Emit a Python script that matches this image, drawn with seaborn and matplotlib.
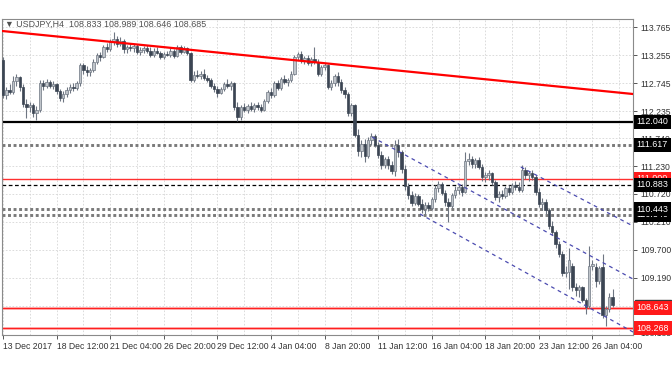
import numpy as np
import matplotlib
matplotlib.use('Agg')
import matplotlib.pyplot as plt
import matplotlib.transforms as mtransforms
import seaborn as sns

# --- USDJPY H4 candles ---
opens = [
    113.16, 112.52, 112.62, 112.58, 112.78, 112.85, 112.68, 112.36, 112.30, 112.35,
    112.20, 112.25, 112.74, 112.70, 112.76, 112.70, 112.73, 112.60, 112.48, 112.55,
    112.62, 112.68, 112.66, 112.74, 113.08, 112.98, 112.94, 112.98, 113.14, 113.26,
    113.22, 113.40, 113.36, 113.50, 113.55, 113.46, 113.52, 113.36, 113.40, 113.38,
    113.42, 113.32, 113.35, 113.38, 113.34, 113.26, 113.34, 113.30, 113.22, 113.28,
    113.26, 113.34, 113.24, 113.40, 113.32, 113.38, 113.30, 112.80, 112.90, 112.88,
    112.92, 112.84, 112.80, 112.70, 112.64, 112.56, 112.64, 112.72, 112.70, 112.74,
    112.30, 112.12, 112.30, 112.26, 112.32, 112.28, 112.34, 112.30, 112.26, 112.42,
    112.58, 112.52, 112.74, 112.66, 112.82, 112.76, 112.80, 112.92, 113.22, 113.28,
    113.16, 113.20, 113.12, 113.18, 113.14, 112.92, 113.04, 113.08, 112.68, 112.74,
    112.88, 112.76, 112.62, 112.54, 112.20, 112.34, 111.80, 111.50, 111.64, 111.42,
    111.70, 111.78, 111.62, 111.44, 111.24, 111.36, 111.24, 111.14, 111.62, 111.48,
    111.18, 110.86, 110.70, 110.56, 110.68, 110.54, 110.44, 110.52, 110.46, 110.62,
    110.82, 110.90, 110.74, 110.58, 110.50, 110.70, 110.80, 110.84, 110.76, 111.32,
    111.36, 111.26, 111.34, 111.22, 111.02, 111.06, 111.10, 110.94, 110.66, 110.72,
    110.68, 110.82, 110.76, 110.88, 110.84, 110.80, 111.16, 111.06, 111.10, 111.02,
    110.76, 110.54, 110.58, 110.42, 110.14, 110.02, 109.80, 109.62, 109.28, 109.30,
    109.40, 109.02, 108.96, 109.02, 108.78, 108.68, 109.40, 109.38, 109.12, 109.38,
    108.50, 108.62, 108.833,
]
highs = [
    113.22, 112.68, 112.72, 112.88, 112.92, 112.88, 112.72, 112.45, 112.40, 112.38,
    112.32, 112.80, 112.80, 112.82, 112.80, 112.78, 112.75, 112.64, 112.60, 112.68,
    112.72, 112.75, 112.78, 113.12, 113.12, 113.06, 113.02, 113.18, 113.30, 113.32,
    113.45, 113.48, 113.55, 113.68, 113.60, 113.58, 113.55, 113.45, 113.48, 113.46,
    113.46, 113.40, 113.42, 113.44, 113.40, 113.38, 113.40, 113.34, 113.32, 113.34,
    113.38, 113.36, 113.44, 113.44, 113.42, 113.40, 113.32, 112.96, 112.98, 112.96,
    113.00, 112.90, 112.84, 112.74, 112.70, 112.68, 112.76, 112.82, 112.78, 112.76,
    112.40, 112.34, 112.38, 112.36, 112.40, 112.38, 112.40, 112.36, 112.46, 112.62,
    112.66, 112.78, 112.80, 112.86, 112.90, 112.84, 112.96, 113.26, 113.32, 113.34,
    113.24, 113.26, 113.22, 113.40, 113.18, 113.08, 113.12, 113.10, 112.80, 112.92,
    112.94, 112.82, 112.68, 112.58, 112.38, 112.36, 111.90, 111.70, 111.72, 111.76,
    111.84, 111.82, 111.66, 111.50, 111.40, 111.42, 111.32, 111.70, 111.72, 111.52,
    111.24, 110.92, 110.78, 110.74, 110.72, 110.62, 110.58, 110.58, 110.66, 110.88,
    110.96, 110.94, 110.80, 110.64, 110.74, 110.86, 110.90, 110.90, 111.48, 111.46,
    111.42, 111.38, 111.40, 111.26, 111.12, 111.16, 111.12, 110.98, 110.78, 110.80,
    110.86, 110.88, 110.92, 110.96, 110.94, 111.24, 111.22, 111.14, 111.16, 111.06,
    110.82, 110.64, 110.62, 110.46, 110.22, 110.06, 109.86, 109.68, 109.40, 109.74,
    109.46, 109.10, 109.06, 109.04, 108.82, 109.76, 109.52, 109.46, 109.40, 109.62,
    108.68, 108.90, 108.989,
]
lows = [
    112.48, 112.45, 112.55, 112.55, 112.70, 112.60, 112.30, 112.10, 112.22, 112.12,
    112.08, 112.22, 112.62, 112.65, 112.66, 112.64, 112.55, 112.42, 112.40, 112.50,
    112.56, 112.60, 112.62, 112.70, 112.92, 112.88, 112.88, 112.95, 113.10, 113.15,
    113.20, 113.32, 113.34, 113.45, 113.40, 113.42, 113.30, 113.30, 113.34, 113.32,
    113.28, 113.26, 113.30, 113.30, 113.22, 113.22, 113.28, 113.18, 113.18, 113.24,
    113.22, 113.20, 113.22, 113.28, 113.30, 113.26, 112.76, 112.76, 112.84, 112.82,
    112.80, 112.76, 112.66, 112.58, 112.50, 112.54, 112.60, 112.66, 112.62, 112.26,
    112.06, 112.08, 112.22, 112.20, 112.24, 112.22, 112.26, 112.22, 112.24, 112.38,
    112.48, 112.50, 112.62, 112.62, 112.72, 112.70, 112.76, 112.90, 113.16, 113.12,
    113.10, 113.08, 113.06, 113.10, 112.88, 112.88, 112.98, 112.64, 112.62, 112.70,
    112.70, 112.56, 112.48, 112.14, 112.14, 111.76, 111.42, 111.40, 111.30, 111.38,
    111.62, 111.58, 111.38, 111.18, 111.20, 111.18, 111.08, 111.04, 111.40, 111.10,
    110.80, 110.62, 110.50, 110.52, 110.50, 110.38, 110.36, 110.40, 110.42, 110.58,
    110.76, 110.70, 110.50, 110.20, 110.46, 110.64, 110.72, 110.68, 110.74, 111.24,
    111.20, 111.20, 111.18, 110.96, 110.94, 110.98, 110.88, 110.60, 110.58, 110.62,
    110.64, 110.70, 110.72, 110.80, 110.76, 110.76, 111.00, 110.96, 110.98, 110.70,
    110.48, 110.42, 110.36, 110.08, 109.96, 109.74, 109.56, 109.22, 109.20, 108.98,
    108.94, 108.86, 108.84, 108.74, 108.52, 108.64, 109.32, 109.02, 109.08, 108.46,
    108.30, 108.56, 108.646,
]
closes = [
    112.52, 112.62, 112.58, 112.78, 112.85, 112.68, 112.36, 112.30, 112.35, 112.20,
    112.25, 112.74, 112.70, 112.76, 112.70, 112.73, 112.60, 112.48, 112.55, 112.62,
    112.68, 112.66, 112.74, 113.08, 112.98, 112.94, 112.98, 113.14, 113.26, 113.22,
    113.40, 113.36, 113.50, 113.55, 113.46, 113.52, 113.36, 113.40, 113.38, 113.42,
    113.32, 113.35, 113.38, 113.34, 113.26, 113.34, 113.30, 113.22, 113.28, 113.26,
    113.34, 113.24, 113.40, 113.32, 113.38, 113.30, 112.80, 112.90, 112.88, 112.92,
    112.84, 112.80, 112.70, 112.64, 112.56, 112.64, 112.72, 112.70, 112.74, 112.30,
    112.12, 112.30, 112.26, 112.32, 112.28, 112.34, 112.30, 112.26, 112.42, 112.58,
    112.52, 112.74, 112.66, 112.82, 112.76, 112.80, 112.92, 113.22, 113.28, 113.16,
    113.20, 113.12, 113.18, 113.14, 112.92, 113.04, 113.08, 112.68, 112.74, 112.88,
    112.76, 112.62, 112.54, 112.20, 112.34, 111.80, 111.50, 111.64, 111.42, 111.70,
    111.78, 111.62, 111.44, 111.24, 111.36, 111.24, 111.14, 111.62, 111.48, 111.18,
    110.86, 110.70, 110.56, 110.68, 110.54, 110.44, 110.52, 110.46, 110.62, 110.82,
    110.90, 110.74, 110.58, 110.50, 110.70, 110.80, 110.84, 110.76, 111.32, 111.36,
    111.26, 111.34, 111.22, 111.02, 111.06, 111.10, 110.94, 110.66, 110.72, 110.68,
    110.82, 110.76, 110.88, 110.84, 110.80, 111.16, 111.06, 111.10, 111.02, 110.76,
    110.54, 110.58, 110.42, 110.14, 110.02, 109.80, 109.62, 109.28, 109.30, 109.52,
    109.02, 108.96, 109.02, 108.78, 108.66, 109.40, 109.44, 109.12, 109.36, 108.50,
    108.62, 108.83, 108.685,
]

x_labels = ["13 Dec 2017", "18 Dec 12:00", "21 Dec 04:00", "26 Dec 20:00",
            "29 Dec 12:00", "4 Jan 04:00", "8 Jan 20:00", "11 Jan 12:00",
            "16 Jan 04:00", "18 Jan 20:00", "23 Jan 12:00", "26 Jan 04:00"]
y_ticks = [113.765, 113.255, 112.745, 112.235, 111.740, 111.230,
           110.720, 110.210, 109.700, 109.190, 108.185]
grid_y = [113.765, 113.255, 112.745, 112.235, 111.740, 111.230,
          110.720, 110.210, 109.700, 109.190, 108.680]

# trend line anchors (bar index, price)
red_trend_x = [-0.3, 188.1]
red_trend_y = [113.698, 112.546]
chan_a_x = [110.2, 188.1]
chan_a_y = [111.760, 109.164]
chan_b_x = [124.5, 188.1]
chan_b_y = [110.353, 108.196]
chan_c_x = [154.6, 188.1]
chan_c_y = [111.212, 110.133]

# horizontal levels
red_levels = [111.000, 108.643, 108.268]
black_level = 112.040
dash_level = 110.883
dot_levels = [111.617, 110.443, 110.340]
bid_price = 108.685

header = "\u25bc USDJPY,H4  108.833 108.989 108.646 108.685"

sns.set_theme(style="white")
plt.rcParams['font.family'] = ['Liberation Sans', 'DejaVu Sans']

fig = plt.figure(figsize=(6.72, 3.72), dpi=100)
ax = fig.add_axes([2 / 672, 1 - 335 / 372, 631 / 672, 316 / 372])
ax.set_xlim(-0.3, 188.1)
ax.set_ylim(108.141, 113.917)

# grid
for gx in np.arange(0, 188, 8):
    ax.axvline(gx, color='#d6d6d6', lw=0.6, ls=(0, (2, 2)), zorder=0)
for gy in grid_y:
    ax.axhline(gy, color='#d6d6d6', lw=0.6, ls=(0, (2, 2)), zorder=0)

# levels
ax.axhline(black_level, color='black', lw=1.6, zorder=2)
for lv in dot_levels:
    ax.axhline(lv, color='#7a7a7a', lw=2.1, ls=(0, (1, 0.9)), zorder=2)
ax.axhline(dash_level, color='black', lw=0.9, ls=(0, (3, 2)), zorder=2)
ax.axhline(red_levels[0], color='#ff3030', lw=1.0, zorder=2)
for lv in red_levels[1:]:
    ax.axhline(lv, color='#ffb4b4', lw=2.0, zorder=2)
    ax.axhline(lv, color='#ff2020', lw=0.9, zorder=2)

# candles
idx = np.arange(len(closes))
o = np.array(opens)
c = np.array(closes)
up = c >= o
ax.vlines(idx, lows, highs, color='#6e7682', lw=0.8, zorder=3)
body_lo = np.minimum(o, c)
body_h = np.maximum(np.abs(c - o), 0.012)
ax.bar(idx[up], body_h[up], bottom=body_lo[up], width=0.72,
       color='#bfc4ca', edgecolor='#6e7682', lw=0.5, zorder=4)
ax.bar(idx[~up], body_h[~up], bottom=body_lo[~up], width=0.72,
       color='#3b4553', edgecolor='#3b4553', lw=0.5, zorder=4)

# trend lines
sns.lineplot(x=red_trend_x, y=red_trend_y, ax=ax, color='#ff0000', lw=1.6, zorder=5)
for lx, ly in [(chan_a_x, chan_a_y), (chan_b_x, chan_b_y), (chan_c_x, chan_c_y)]:
    sns.lineplot(x=lx, y=ly, ax=ax, color='#4b4bb0', lw=0.9,
                 ls=(0, (3, 3)), zorder=5)

# axes styling
for side in ['left', 'right', 'top', 'bottom']:
    ax.spines[side].set_color('#8a8a8a')
    ax.spines[side].set_linewidth(0.8)
ax.yaxis.tick_right()
ax.set_yticks(y_ticks)
ax.set_yticklabels([f"{v:.3f}" for v in y_ticks])
ax.set_xticks(np.arange(0, 16 * len(x_labels), 16))
ax.set_xticklabels(x_labels, ha='left')
ax.tick_params(axis='both', which='both', length=3, width=0.7, color='#555555',
               labelsize=6.2, labelcolor='#333333', direction='out')
ax.tick_params(axis='y', pad=2, right=True, left=False)
ax.tick_params(axis='x', pad=2, bottom=True)
ax.set_xlabel('')
ax.set_ylabel('')

# price boxes on the right
trans = mtransforms.blended_transform_factory(ax.transAxes, ax.transData)
# bid price marker sits under the 108.643 label, only its edge shows
ax.add_patch(plt.Rectangle((1.003, bid_price - 0.11), 0.058, 0.2, transform=trans,
                           color='#3a3a3a', clip_on=False, zorder=9))
boxes = [
    (112.040, 'black'),
    (111.617, 'black'),
    (111.000, '#ff1a1a'),
    (110.883, 'black'),
    (110.340, 'black'),
    (110.443, 'black'),
    (108.643, '#ff1a1a'),
    (108.268, '#ff1a1a'),
]
for val, col in boxes:
    ax.text(1.006, val, f"{val:.3f}", transform=trans, fontsize=6.4,
            color='white', va='center', ha='left', zorder=10, clip_on=False,
            bbox=dict(boxstyle='square,pad=0.28', fc=col, ec='none'))

fig.text(5 / 672, 1 - 24.5 / 372, header, fontsize=6.4, color='#505050',
         va='center', ha='left')

fig.savefig('out.png', dpi=100)
